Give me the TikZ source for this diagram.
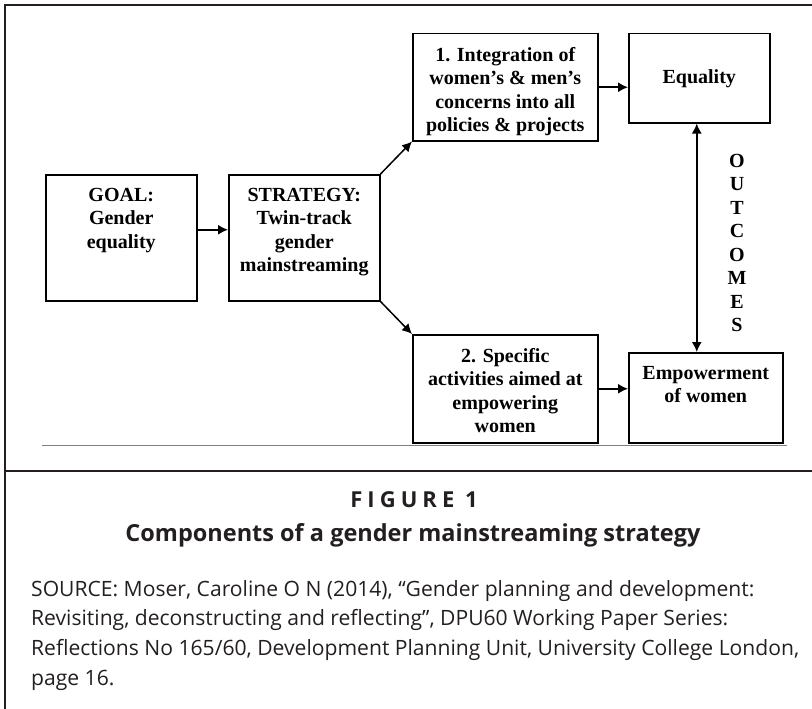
\documentclass[tikz,border=0pt]{standalone}
\usepackage{fontspec}
\setmainfont{Liberation Serif}
\newfontfamily\capfont{Open Sans}
\newfontfamily\figfont[LetterSpace=23]{Open Sans}
\usepackage{xcolor}
\usetikzlibrary{positioning,arrows.meta,calc}
\definecolor{capgray}{HTML}{231F20}
\tikzset{
    box/.style={draw, line width=1.5pt, anchor=north west, inner sep=0pt},
    lbl/.style={font=\bfseries\fontsize{20}{23.5}\selectfont, align=center, inner sep=0pt},
    link/.style={line width=1.5pt, ->},
    frame/.style={line width=1.3pt, draw=capgray}
}

\begin{document}
\begin{tikzpicture}[x=1pt,y=-1pt,>={Latex[length=10pt,width=10pt]}]
\useasboundingbox (0,0) rectangle (812,709);
\draw[frame] (812,5) -- (5,5) -- (5,709);
\draw[frame] (5,471) -- (812,471);
\draw[line width=1pt,draw=gray] (42,445) -- (787,445);
\node[box,minimum width=151pt,minimum height=126pt] (goal) at (45,174) {};
\node[box,minimum width=151pt,minimum height=126pt] (strat) at (228,174) {};
\node[box,minimum width=185pt,minimum height=107pt] (integ) at (412,33) {};
\node[box,minimum width=141pt,minimum height=89pt,lbl] (equal) at (628,33) {Equality};
\node[box,minimum width=185pt,minimum height=108pt] (activ) at (412,334) {};
\node[box,minimum width=154pt,minimum height=90pt] (empow) at (628,352) {};
\node[lbl,below=14pt of goal.north] (goaltxt) {GOAL:\\Gender\\equality};
\node[lbl,below=14pt of strat.north] (strattxt) {STRATEGY:\\Twin-track\\gender\\mainstreaming};
\node[lbl,below=14pt of integ.north] (integtxt) {1. Integration of\\women’s \& men’s\\concerns into all\\policies \& projects};
\node[lbl,below=14pt of activ.north] (activtxt) {2. Specific\\activities aimed at\\empowering\\women};
\node[lbl,below=14pt of empow.north] (empowtxt) {Empowerment\\of women};
\node[lbl] (outc) at (737,243) {O\\U\\T\\C\\O\\M\\E\\S};
\draw[link] ([yshift=8pt]goal.east) -- ([yshift=8pt]strat.west);
\draw[link] (strat.north east) -- (integ.south west);
\draw[link] (strat.south east) -- (activ.north west);
\draw[link] (integ.east) -- (integ.east -| equal.west);
\draw[link] (activ.east) -- (activ.east -| empow.west);
\draw[link,<->] ([xshift=-2.5pt]equal.south) -- ([xshift=-2.5pt]equal.south |- empow.north);
\node[anchor=base, font=\figfont\bfseries\fontsize{22}{24}\selectfont, text=capgray] (fig) at (414,507) {FIGURE 1};
\node[anchor=base, font=\capfont\bfseries\fontsize{23.5}{26}\selectfont, text=capgray] (title) at (413,541) {Components of a gender mainstreaming strategy};
\node[anchor=north west, align=left, inner sep=0pt, font=\capfont\fontsize{21.1}{29.7}\selectfont, text=capgray] (source) at (31,580) {SOURCE: Moser, Caroline O N (2014), “Gender planning and development:\\Revisiting, deconstructing and reflecting”, DPU60 Working Paper Series:\\Reflections No 165/60, Development Planning Unit, University College London,\\page 16.};
\end{tikzpicture}
\end{document}
